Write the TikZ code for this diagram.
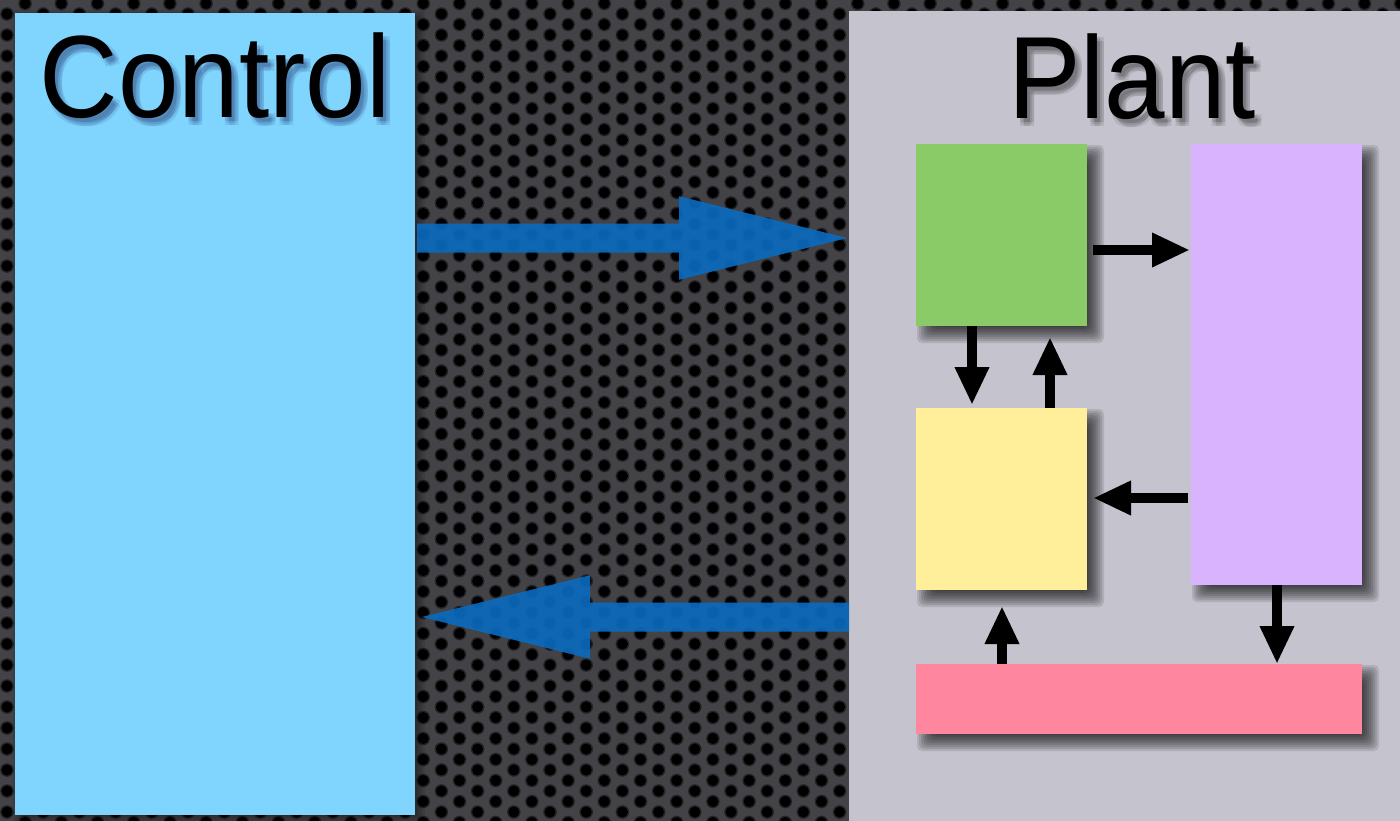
\documentclass[tikz,border=0pt]{standalone}
\usepackage{fontspec}
\setmainfont{Liberation Sans}
\usetikzlibrary{arrows.meta}

\definecolor{plate}{HTML}{434347}
\definecolor{holerim}{HTML}{232326}
\definecolor{ctrlfill}{HTML}{80D5FF}
\definecolor{plantfill}{HTML}{C5C4CE}
\definecolor{greenfill}{HTML}{8BCB67}
\definecolor{purplefill}{HTML}{DAB3FF}
\definecolor{yellowfill}{HTML}{FFEE9A}
\definecolor{pinkfill}{HTML}{FF869F}
\definecolor{flowblue}{HTML}{0A6CC0}

% soft drop shadow behind a rectangle given by its corners (x1,y1) and (x2,y2)
\newcommand\softshadow[4]{%
  \foreach \r in {-8,-6,...,8} {
    \fill[black, opacity=0.11, rounded corners=5pt]
      (#1+9-\r,#2+9-\r) rectangle (#3+9+\r,#4+9+\r);
  }%
}

\begin{document}
\begin{tikzpicture}[x=1pt,y=-1pt,
  panel/.style={rectangle, inner sep=0pt, outer sep=0pt, draw=none},
  title/.style={font=\fontsize{117}{117}\selectfont, inner sep=0pt, anchor=base, xscale=0.93},
  link/.style={line width=10pt, -{Triangle[length=38pt,width=32pt]}},
  flow/.style={draw=flowblue, line width=29pt, -{Triangle[length=180pt,width=74pt]}}
]
\useasboundingbox (0,0) rectangle (1400,820);

% perforated metal plate
\fill[plate] (-5,-5) rectangle (1405,825);
\foreach \i in {0,...,78} {
  \pgfmathsetmacro{\hx}{7+18.1*\i}
  \pgfmathsetmacro{\hy}{mod(\i,2)==1 ? 3.5 : -7}
  \foreach \j in {0,...,40} {
    \fill[holerim] (\hx,\hy+21*\j) circle (6.8pt);
    \fill[black] (\hx,\hy+21*\j) circle (5.5pt);
  }
}

% the two sides
\foreach \r in {-2,0,...,6} {
  \fill[black, opacity=0.08] (15+4-\r,13+3-\r) rectangle (415+4+\r,815+3+\r);
}
\node[panel, fill=ctrlfill, minimum width=400pt, minimum height=802pt] (control) at (215,414) {};
\node[panel, fill=plantfill, minimum width=580pt, minimum height=830pt] (plant) at (1139,426) {};

% command and measurement flows between control and plant
\begin{scope}[transparency group, opacity=0.9]
  \draw[flow, shorten <=2pt, shorten >=-10pt] (control.east |- 0,238) -- (plant.west |- 0,238);
\end{scope}
\begin{scope}[transparency group, opacity=0.9]
  \draw[flow, shorten >=-5pt] (plant.west |- 0,617) -- (control.east |- 0,617);
\end{scope}

% titles with soft shadows
\foreach \dx/\dy [count=\k] in {-2/-2,2/-2,0/0,-2/2,2/2} {
  \node[title, text=black!75!blue, opacity=0.09] (ctrlshade\k) at (220+\dx,123+\dy) {Control};
  \node[title, text=black, opacity=0.09] (plantshade\k) at (1137+\dx,124+\dy) {Plant};
}
\node[title] (ctrltitle) at (215,117) {Control};
\node[title] (planttitle) at (1132,118) {Plant};

% plant blocks
\softshadow{916}{144}{1087}{326}
\softshadow{1191}{144}{1362}{585}
\softshadow{916}{408}{1087}{590}
\softshadow{916}{664}{1362}{734}
\node[panel, fill=greenfill,  minimum width=171pt, minimum height=182pt] (green)  at (1001.5,235) {};
\node[panel, fill=purplefill, minimum width=171pt, minimum height=441pt] (purple) at (1276.5,364.5) {};
\node[panel, fill=yellowfill, minimum width=171pt, minimum height=182pt] (yellow) at (1001.5,499) {};
\node[panel, fill=pinkfill,   minimum width=446pt, minimum height=70pt]  (pink)   at (1139,699) {};

% signals inside the plant
\draw[link, shorten <=6pt, shorten >=1pt] (green.east |- 0,250) -- (purple.west |- 0,250);
\draw[link, shorten >=3pt] (green.south -| 972,0) -- (yellow.north -| 972,0);
\draw[link, shorten >=11pt] (yellow.north -| 1050,0) -- (green.south -| 1050,0);
\draw[link, shorten <=3pt, shorten >=6pt] (purple.west |- 0,498) -- (yellow.east |- 0,498);
\draw[link, shorten >=16pt] (pink.north -| 1002,0) -- (yellow.south -| 1002,0);
\draw[link] (purple.south -| 1277,0) -- (pink.north -| 1277,0);
\end{tikzpicture}
\end{document}
